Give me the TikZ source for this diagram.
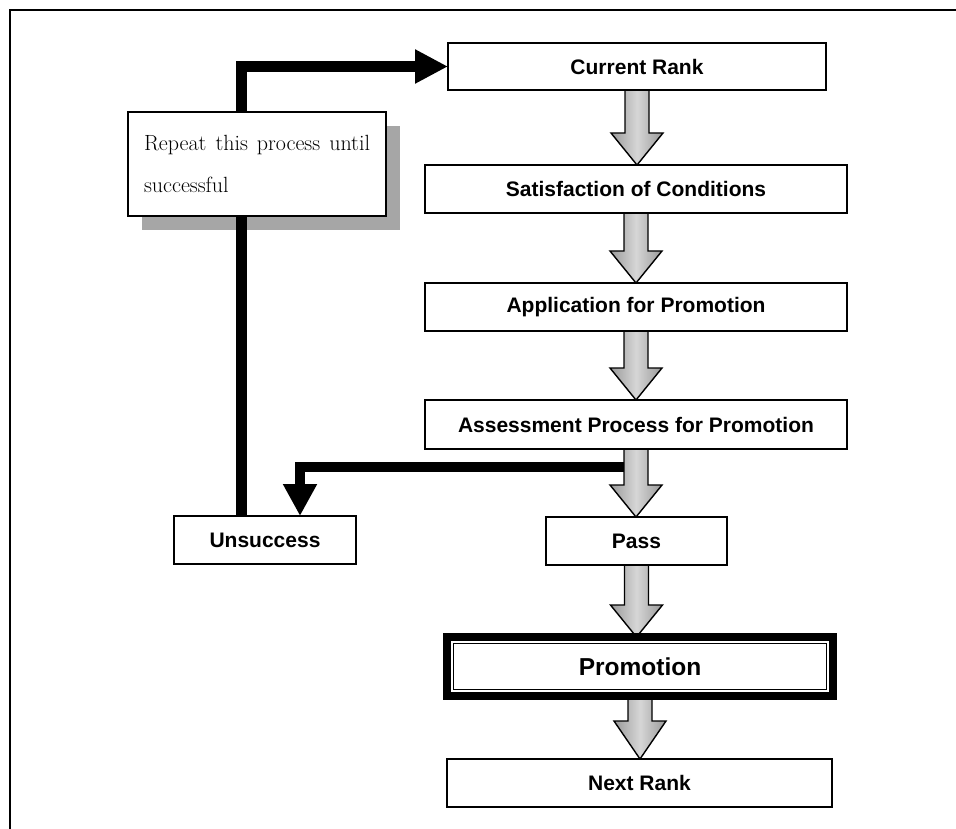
\documentclass[tikz,border=0pt]{standalone}
\usepackage{fontspec}
\newfontfamily\boxfont{Liberation Sans}
\usetikzlibrary{arrows.meta,calc}
\pgfdeclarelayer{bglayer}
\pgfdeclarelayer{shadowlayer}
\pgfdeclarelayer{linelayer}
\pgfsetlayers{bglayer,shadowlayer,linelayer,main}

% grey block arrow from the bottom of one box to the top of the next
\newcommand\blockarrow[3][32pt]{%
  \path[draw=black, line width=1.4pt, line join=miter,
        left color=black!40, right color=black!40, middle color=black!16]
    let \p1=(#2.south), \p2=(#3.north) in
    (\x1-12pt,\y1) -- (\x1-12pt,\y2+#1) -- (\x1-26pt,\y2+#1) -- (\x1,\y2)
    -- (\x1+26pt,\y2+#1) -- (\x1+12pt,\y2+#1) -- (\x1+12pt,\y1) -- cycle;}

\begin{document}
\begin{tikzpicture}[x=1pt,y=-1pt,
  box/.style={draw=black, line width=1.6pt, fill=white, inner sep=0pt, outer sep=0pt,
              font={\boxfont\bfseries\fontsize{21}{25}\selectfont}},
  loopline/.style={draw=black, line width=11pt, line join=miter,
                   -{Triangle[length=33pt,width=32pt]}},
  failline/.style={draw=black, line width=10pt, line join=miter,
                   -{Triangle[length=32pt,width=32pt]}}]

\useasboundingbox (0,0) rectangle (956,829);
\begin{pgfonlayer}{bglayer}
  \fill[white] (0,0) rectangle (956,829);
\end{pgfonlayer}

% frame
\draw[line width=2pt] (10,829) -- (10,10) -- (956,10);

% main column
\node[box, minimum width=378pt, minimum height=47pt] (cur)   at (637,66.5) {Current Rank};
\node[box, minimum width=422pt, minimum height=48pt] (sat)   at (636,189)  {Satisfaction of Conditions};
\node[box, minimum width=422pt, minimum height=48pt] (app)   at (636,307)  {Application for Promotion};
\node[box, minimum width=422pt, minimum height=49pt] (ass)   at (636,424.5) {Assessment Process for Promotion};
\node[box, minimum width=181pt, minimum height=48pt] (pass)  at (636.5,541) {Pass};
\node[box, line width=8pt, minimum width=386pt, minimum height=59pt,
      font={\boxfont\bfseries\fontsize{24.5}{28}\selectfont}] (promo) at (640,666.5) {Promotion};
\draw[line width=1.4pt] ([xshift=6.5pt,yshift=-6.5pt]promo.north west)
  rectangle ([xshift=-6.5pt,yshift=6.5pt]promo.south east);
\node[box, minimum width=385pt, minimum height=48pt] (next)  at (639.5,783) {Next Rank};

% failure branch
\node[box, font={\rmfamily\fontsize{22}{42}\selectfont},
      text width=226pt, align=justify, inner xsep=16pt, minimum height=104pt]
      (rep) at (257,164) {\hyphenpenalty=10000 Repeat this process until\linebreak successful};
\node[box, minimum width=182pt, minimum height=48pt] (unsucc) at (265,540) {Unsuccess};

\begin{pgfonlayer}{shadowlayer}
  \fill[black!35] ([xshift=14pt,yshift=-14pt]rep.north west)
    rectangle ([xshift=14pt,yshift=-14pt]rep.south east);
\end{pgfonlayer}

\coordinate (loopx) at (241,0);
\coordinate (dropx) at (300,0);
\coordinate (fork)  at (636,467);

\begin{pgfonlayer}{linelayer}
  \draw[loopline] (unsucc.north -| loopx) |- (cur.west);
  \draw[failline] (fork) -| (unsucc.north -| dropx);
  \blockarrow{cur}{sat}
  \blockarrow{sat}{app}
  \blockarrow{app}{ass}
  \blockarrow{ass}{pass}
  \blockarrow{pass}{promo}
  \blockarrow[38pt]{promo}{next}
\end{pgfonlayer}
\end{tikzpicture}
\end{document}
